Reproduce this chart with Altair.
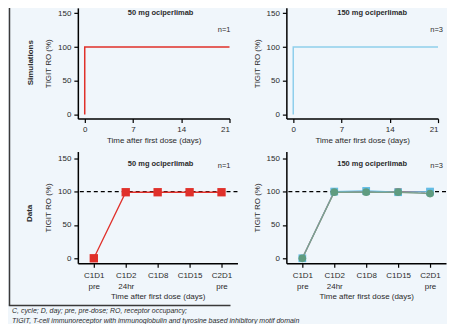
import altair as alt
import pandas as pd

# ---------------- data ----------------
sim_days = [0, 0, 21]
sim_ro_50 = [0, 100, 100]
sim_ro_150 = [0, 100, 100]
sim_ticks = [0, 7, 14, 21]
ro_ticks = [0, 50, 100, 150]

visits = ["C1D1 pre", "C1D2 24hr", "C1D8", "C1D15", "C2D1 pre"]
ro_50 = [0, 99, 99, 99, 99]
ro_150_a = [0, 100, 100, 100, 100]
ro_150_b = [0, 100, 101, 99, 100]
ro_150_c = [0, 99, 99, 99, 97]
ref_level = [100]

titles = ["50 mg ociperlimab", "150 mg ociperlimab"]
n_labels = ["n=1", "n=3"]
row_labels = ["Simulations", "Data"]
x_title_sim = "Time after first dose (days)"
x_title_data = "Time after first dose (days)"
y_title = "TIGIT RO (%)"
footer = [
    "C, cycle; D, day; pre, pre-dose; RO, receptor occupancy;",
    "TIGIT, T-cell immunoreceptor with immunoglobulin and tyrosine based inhibitory motif domain",
]

RED = "#e0302a"
LBLUE = "#8fcfec"
SQBLUE = "#62bde6"
GREEN = "#5f9c80"
FONT = "Liberation Sans"
TXT = "#2b2b2b"


def one():
    return alt.Chart(pd.DataFrame({"a": [0]}))


def txt(value, x, y, **kw):
    return alt.Chart(pd.DataFrame({"t": [value]})).mark_text(font=FONT, color=TXT, **kw).encode(
        text="t:N", x=alt.value(x), y=alt.value(y))


def yaxis():
    return alt.Axis(values=ro_ticks, title=y_title)


def sim_panel(ro, color, title, n, tx, nx, row_label=None):
    df = pd.DataFrame({"day": sim_days, "ro": ro, "i": list(range(len(sim_days)))})
    line = alt.Chart(df).mark_line(color=color, strokeWidth=1.5).encode(
        x=alt.X("day:Q", scale=alt.Scale(domain=[-1, 21], nice=False, zero=False),
                axis=alt.Axis(values=sim_ticks, title=x_title_sim, labelPadding=3, titlePadding=3)),
        y=alt.Y("ro:Q", scale=alt.Scale(domain=[-6, 158], nice=False, zero=False), axis=yaxis()),
        order="i:Q",
    )
    layers = [line,
              txt(title, tx, 5.5, fontWeight="bold", fontSize=7.5, baseline="middle"),
              txt(n, nx, 22, fontSize=7.5, align="right", baseline="middle")]
    if row_label:
        layers.append(txt(row_label, -47, 55, fontWeight="bold", fontSize=8, angle=270, baseline="middle"))
    return alt.layer(*layers).properties(width=152, height=111)


def data_panel(series, title, n, tx, nx, row_label=None, foot=False):
    xenc = alt.X("visit:N", sort=visits, scale=alt.Scale(type="point", padding=0.5),
                 axis=alt.Axis(title=x_title_data, labelAngle=0, labelExpr="split(datum.label, ' ')",
                               labelLineHeight=11, labelPadding=4, titlePadding=2))
    yenc = alt.Y("ro:Q", scale=alt.Scale(domain=[-7.5, 160], nice=False, zero=False), axis=yaxis())
    layers = [alt.Chart(pd.DataFrame({"ro": ref_level})).mark_rule(
        color="black", strokeDash=[4, 3], strokeWidth=1.2).encode(y=yenc)]
    for vals, color, shape, lcolor, size in series:
        df = pd.DataFrame({"visit": visits, "ro": vals})
        base = alt.Chart(df).encode(x=xenc, y=yenc)
        layers.append(base.mark_line(color=lcolor, strokeWidth=1.3))
        layers.append(base.mark_point(shape=shape, filled=True, color=color, size=size, opacity=1))
    layers.append(txt(title, tx, 12, fontWeight="bold", fontSize=7.5, baseline="middle"))
    layers.append(txt(n, nx, 15, fontSize=7.5, align="right", baseline="middle"))
    if row_label:
        layers.append(txt(row_label, -48, 62, fontWeight="bold", fontSize=8, angle=270, baseline="middle"))
    if foot:
        # frame lines (left and bottom) of the figure box
        layers.append(one().mark_rule(color="#3a3a3a", strokeWidth=1.5).encode(
            x=alt.value(-68.5), y=alt.value(-144), y2=alt.value(154.4)))
        layers.append(one().mark_rule(color="#3a3a3a", strokeWidth=1.5).encode(
            x=alt.value(-69.2), x2=alt.value(153), y=alt.value(154.4)))
        layers.append(one().mark_text(
            font=FONT, color=TXT, fontSize=7, fontStyle="italic", align="left", baseline="top",
            lineHeight=10, text=footer).encode(x=alt.value(-66), y=alt.value(155.5)))
    return alt.layer(*layers).properties(width=160, height=112)


tl = sim_panel(sim_ro_50, RED, titles[0], n_labels[0], 83, 153, row_labels[0])
tr = sim_panel(sim_ro_150, LBLUE, titles[1], n_labels[1], 86, 157)
bl = data_panel([(ro_50, RED, "square", RED, 70)], titles[0], n_labels[0], 83, 153, row_labels[1], foot=True)
br = data_panel([(ro_150_a, RED, "square", RED, 45),
                 (ro_150_b, SQBLUE, "square", SQBLUE, 60),
                 (ro_150_c, GREEN, "circle", "#7f9f8a", 60)],
                titles[1], n_labels[1], 86, 157)

chart = alt.concat(tl, tr, bl, br, columns=2, spacing={"row": 33, "column": 49}, bounds="flush").properties(
    padding={"left": 0, "top": -1.5, "right": 0, "bottom": 0}, background="#f0f6fb"
).configure_view(stroke=None).configure_axis(
    domainColor="black", domainWidth=1.5, tickColor="black", tickWidth=1.2, tickSize=4,
    labelFont=FONT, labelFontSize=8, labelColor=TXT, titleFont=FONT, titleFontSize=8,
    titleFontWeight="normal", titleColor=TXT, grid=False,
).configure_axisY(labelPadding=3, titlePadding=5)

chart.save("out.html", embed_options={"renderer": "svg", "actions": False})
